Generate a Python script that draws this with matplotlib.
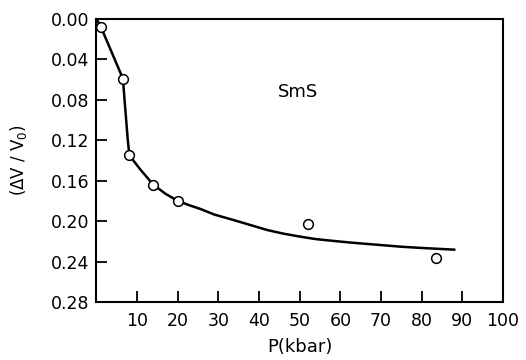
import matplotlib
matplotlib.use("Agg")
import matplotlib.pyplot as plt

plt.rcParams['font.family'] = ['DejaVu Sans']

# measured points
p_meas = [1.1, 6.5, 8.1, 14, 20, 52, 83.5]
dv_meas = [0.008, 0.059, 0.135, 0.164, 0.180, 0.203, 0.236]

# drawn curve
p_curve = [0, 1.1, 6.5, 6.9, 7.3, 7.7, 8.1, 11, 14, 17, 20, 23, 25.6, 29, 33.8,
           38, 42, 46, 50.2, 54, 58.4, 62.5, 66.7, 71, 74.9, 79, 83.1, 88]
dv_curve = [0.0, 0.008, 0.059, 0.080, 0.100, 0.120, 0.135, 0.150, 0.164, 0.173,
            0.180, 0.1845, 0.188, 0.1935, 0.199, 0.204, 0.2088, 0.2124, 0.2154,
            0.2178, 0.2196, 0.2212, 0.2226, 0.224, 0.2253, 0.2263, 0.2272, 0.2282]

xticks = [10, 20, 30, 40, 50, 60, 70, 80, 90, 100]
yticks = [0.00, 0.04, 0.08, 0.12, 0.16, 0.20, 0.24, 0.28]

fig = plt.figure(figsize=(5.26, 3.6), dpi=100)
ax = fig.add_axes([96.5/526, 1 - 302/360, (503 - 96.5)/526, (302 - 19)/360])

ax.plot(p_curve, dv_curve, color='black', lw=1.8, zorder=2)
ax.plot(p_meas, dv_meas, 'o', ms=7, mfc='white', mec='black', mew=1.1, zorder=3)

ax.set_xlim(0, 100)
ax.set_ylim(0.28, 0.0)
ax.set_xticks(xticks)
ax.set_yticks(yticks)
ax.set_yticklabels(['%.2f' % v for v in yticks])

ax.tick_params(direction='in', length=8, width=1.3, labelsize=12.5, pad=5)
ax.tick_params(axis='x', pad=7)
for s in ax.spines.values():
    s.set_linewidth(1.5)

ax.set_xlabel('P(kbar)', fontsize=13, labelpad=6)
ax.set_ylabel(r'($\Delta$V / V$_0$)', fontsize=12, labelpad=16)
ax.text(44.6, 0.072, 'SmS', fontsize=13, va='center')

fig.savefig('out.png', dpi=100)
